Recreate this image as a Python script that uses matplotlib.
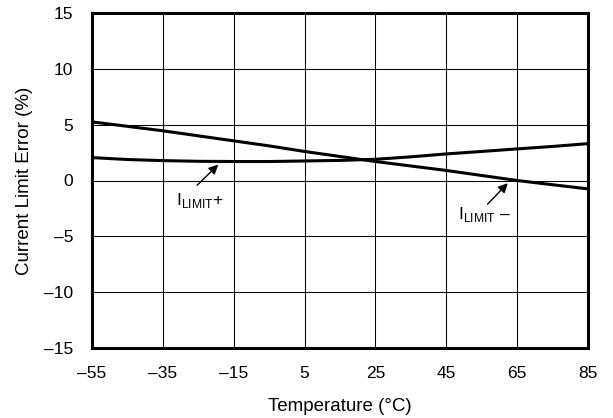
import matplotlib
matplotlib.use("Agg")
import matplotlib.pyplot as plt

plt.rcParams['font.family'] = ['Liberation Sans', 'DejaVu Sans']
plt.rcParams['mathtext.fontset'] = 'custom'
plt.rcParams['mathtext.rm'] = 'Liberation Sans'

temps = [-55, -45, -35, -25, -15, -5, 5, 15, 25, 35, 45, 55, 65, 75, 85]
ilimit_minus = [5.25, 4.85, 4.45, 4.0, 3.55, 3.1, 2.6, 2.15, 1.7, 1.3, 0.9, 0.45, 0.0, -0.38, -0.75]
ilimit_plus = [2.05, 1.88, 1.78, 1.72, 1.7, 1.7, 1.75, 1.8, 1.9, 2.12, 2.38, 2.6, 2.83, 3.05, 3.3]
xticks = [-55, -35, -15, 5, 25, 45, 65, 85]
yticks = [-15, -10, -5, 0, 5, 10, 15]

fig = plt.figure(figsize=(6.13, 4.18), dpi=100)
ax = fig.add_axes([92/613, 1 - 348/418, (588 - 92)/613, (348 - 13)/418])

ax.plot(temps, ilimit_minus, color='black', lw=2.2, solid_capstyle='butt')
ax.plot(temps, ilimit_plus, color='black', lw=2.2, solid_capstyle='butt')

ax.set_xlim(-55, 85)
ax.set_ylim(-15, 15)
ax.set_xticks(xticks)
ax.set_yticks(yticks)
ax.set_xticklabels([str(t).replace('-', '\u2013') for t in xticks], fontsize=12.5)
ax.set_yticklabels([str(t).replace('-', '\u2013') for t in yticks], fontsize=12.5)
ax.tick_params(axis='x', length=0, pad=13)
ax.tick_params(axis='y', length=0, pad=13.5)
ax.grid(True, color='black', lw=0.75)
for s in ax.spines.values():
    s.set_linewidth(2.2)

ax.set_xlabel('Temperature (\u00b0C)', fontsize=13.5, labelpad=12)
ax.set_ylabel('Current Limit Error (%)', fontsize=13.5, labelpad=8)

ax.annotate('', xy=(-18.8, 1.6), xytext=(-25.9, -0.6),
            arrowprops=dict(arrowstyle='-|>', color='black', lw=1.0, mutation_scale=14))
ax.text(-31.2, -1.8, r'I$_{\mathregular{LIMIT}}$+', fontsize=12.5, va='center', ha='left')

ax.annotate('', xy=(62.9, -0.06), xytext=(56.1, -2.3),
            arrowprops=dict(arrowstyle='-|>', color='black', lw=1.0, mutation_scale=14))
ax.text(48.2, -3.0, r'I$_{\mathregular{LIMIT}}$' + ' \u2013', fontsize=12.5, va='center', ha='left')

fig.savefig('out.png', dpi=100)
